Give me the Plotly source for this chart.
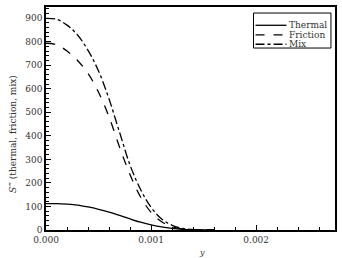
import plotly.graph_objects as go

y_pos = [0, 0.0001, 0.0002, 0.0003, 0.0004, 0.0005, 0.0006, 0.0007, 0.0008,
         0.0009, 0.0010, 0.0011, 0.0012, 0.0013, 0.0014, 0.0015, 0.0016]
thermal = [112, 112, 110, 106, 98, 88, 76, 62, 47, 33, 22, 13, 7, 3, 1, 0.3, 0]
friction = [793, 787, 760, 720, 665, 585, 480, 352, 235, 140, 75, 35, 14, 4, 1, 0.3, 0]
mix = [899, 895, 870, 828, 763, 675, 556, 415, 275, 172, 96, 47, 20, 7, 2, 0.5, 0]

names = ["Thermal", "Friction", "Mix"]
dashes = ["solid", "dash", "dashdot"]
series = [thermal, friction, mix]

font_family = "DejaVu Serif"
text_color = "#333"

fig = go.Figure()
for name, dash, vals in zip(names, dashes, series):
    fig.add_trace(go.Scatter(x=y_pos, y=vals, mode="lines", name=name, showlegend=False,
                             line=dict(color="black", width=1.3, dash=dash, shape="spline")))

axis_common = dict(showline=True, linecolor="black", linewidth=1.5, mirror=True,
                   ticks="inside", ticklen=5, tickwidth=1, tickcolor="black",
                   showgrid=False, zeroline=False,
                   tickfont=dict(family=font_family, size=9, color=text_color))

fig.update_xaxes(range=[0, 0.00275], dtick=0.001, tick0=0, tickformat=".3f",
                 minor=dict(dtick=0.0002, ticks="inside", ticklen=3, tickcolor="black"),
                 **axis_common)
fig.update_yaxes(range=[0, 947], dtick=100, tick0=0,
                 minor=dict(dtick=20, ticks="inside", ticklen=3, tickcolor="black"),
                 **axis_common)

fig.add_annotation(text="<i>y</i>", xref="paper", yref="paper", x=0.54, y=-0.1,
                   xanchor="center", yanchor="middle", showarrow=False,
                   font=dict(family=font_family, size=8, color=text_color))
fig.add_annotation(text="<i>S</i>‴ (thermal, friction, mix)", xref="paper", yref="paper",
                   x=-0.115, y=0.43, xanchor="center", yanchor="middle", textangle=-90,
                   showarrow=False, font=dict(family=font_family, size=9, color=text_color))

# manual legend (layout positions in paper coordinates)
leg_box = dict(x0=0.718, x1=0.986, y0=0.816, y1=0.973)
leg_rows = [0.918, 0.875, 0.833]
leg_line_x = (0.725, 0.832)
leg_text_x = 0.836
fig.add_shape(type="rect", xref="paper", yref="paper", line=dict(color="black", width=1),
              fillcolor="white", layer="above", **leg_box)
for name, dash, ry in zip(names, dashes, leg_rows):
    fig.add_shape(type="line", xref="paper", yref="paper", x0=leg_line_x[0], x1=leg_line_x[1],
                  y0=ry, y1=ry, line=dict(color="black", width=1.3, dash=dash), layer="above")
    fig.add_annotation(text=name, xref="paper", yref="paper", x=leg_text_x, y=ry,
                       xanchor="left", yanchor="middle", showarrow=False, borderpad=0,
                       font=dict(family=font_family, size=9, color=text_color))

fig.update_layout(
    width=342, height=258,
    margin=dict(l=46, r=5, t=7, b=28),
    paper_bgcolor="white", plot_bgcolor="white",
    showlegend=False,
)

fig.write_html("out.html")
